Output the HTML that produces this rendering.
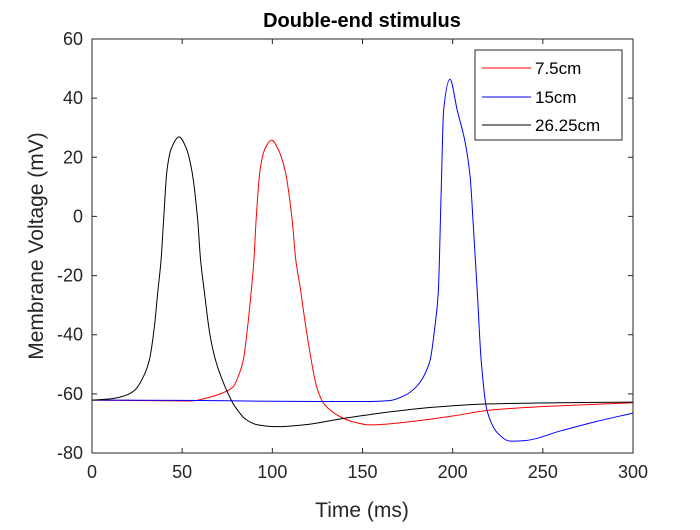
<!DOCTYPE html>
<html><head><meta charset="utf-8"><style>
body{margin:0;background:#fff;}
svg text{font-family:"Liberation Sans",Arial,sans-serif;}
</style></head><body>
<svg id="chart" width="700" height="525" xmlns="http://www.w3.org/2000/svg">
<rect width="700" height="525" fill="#fff"/>
<text x="362" y="27" text-anchor="middle" font-size="20" font-weight="bold" fill="#000">Double-end stimulus</text>
<g id="ticks"></g>
<g id="series"></g>
<rect x="92" y="39" width="541" height="414" fill="none" stroke="#262626" stroke-width="1"/>
<text x="362" y="517" text-anchor="middle" font-size="21" fill="#262626">Time (ms)</text>
<text transform="translate(43,246) rotate(-90)" text-anchor="middle" font-size="21" fill="#262626">Membrane Voltage (mV)</text>
<g>
<rect x="475" y="50" width="147" height="90" fill="#fff" stroke="#262626"/>
<line x1="482" y1="68" x2="531" y2="68" stroke="#ff0000"/>
<text x="535" y="74" font-size="17" fill="#000">7.5cm</text>
<line x1="482" y1="97" x2="531" y2="97" stroke="#0000ff"/>
<text x="535" y="103" font-size="17" fill="#000">15cm</text>
<line x1="482" y1="125" x2="531" y2="125" stroke="#000"/>
<text x="535" y="131" font-size="17" fill="#000">26.25cm</text>
</g>
</svg>
<script>
const xTicks=[0,50,100,150,200,250,300];
const yTicks=[60,40,20,0,-20,-40,-60,-80];
const redT=[0,30,55,65.4,72,78.3,81.5,83.9,86.3,88.2,89.8,91,93.2,96,99.7,103,107,111,113,115.4,118,120.9,124.6,128.7,137.5,145,154,175,200,220.7,260,300];
const redV=[-62.1,-62.3,-62.4,-61.1,-59.8,-57.6,-53.5,-48.6,-37.3,-26,-14.7,-1.2,15.7,23,25.8,23,15.7,-1.2,-14.7,-23.8,-35,-46.2,-57.7,-63.4,-67.7,-69.5,-70.5,-69.5,-67.5,-65.5,-64,-63];
const blueT=[0,50,100,150,165,173.6,180,184,187.5,190,192,193.6,195,198.5,202.5,207,209.7,211.5,213.7,215.8,219,225,232,240,260,280,300];
const blueV=[-62.1,-62.2,-62.5,-62.6,-62.3,-60.5,-57.5,-54,-48.6,-38,-26,7.9,36,46.4,36,24.8,13.3,-3.6,-26,-48.6,-65.5,-73.3,-76,-75.8,-72.5,-69.3,-66.5];
const blackT=[0,10,15.5,20,23.8,28.5,31.8,34.6,36.4,38.3,39.7,41.6,44,48.3,52,55.3,58.6,60.2,62.2,65.4,68.5,73.8,79.3,85.7,92,102,120,137.5,160,190,220,260,300];
const blackV=[-62.1,-61.7,-61.1,-60.2,-58.7,-54.2,-48.6,-37.3,-26,-14.7,-1.2,15.7,23,26.9,23.5,15.7,-1.2,-14.7,-25,-40,-48.6,-57.6,-64.3,-68.8,-70.5,-71.1,-70.3,-68.5,-66.5,-64.5,-63.4,-63,-62.8];
const X0=92,X1=633,Y0=453,Y1=39,XMIN=0,XMAX=300,YMIN=-80,YMAX=60;
function sx(t){return X0+(t-XMIN)/(XMAX-XMIN)*(X1-X0);}
function sy(v){return Y0-(v-YMIN)/(YMAX-YMIN)*(Y0-Y1);}
const NS="http://www.w3.org/2000/svg";
const tg=document.getElementById('ticks');
xTicks.forEach(t=>{
  const x=sx(t);
  const l=document.createElementNS(NS,'path');
  l.setAttribute('d',`M${x},${Y0}v-5M${x},${Y1}v5`);
  l.setAttribute('stroke','#262626');
  
  
  tg.appendChild(l);
  const tx=document.createElementNS(NS,'text');
  tx.setAttribute('x',x);tx.setAttribute('y',Y0+25);
  tx.setAttribute('text-anchor','middle');tx.setAttribute('font-size','18');tx.setAttribute('fill','#262626');
  tx.textContent=t;
  
  
  tg.appendChild(tx);
});
yTicks.forEach(v=>{
  const y=sy(v);
  const l=document.createElementNS(NS,'path');
  l.setAttribute('d',`M${X0},${y}h5M${X1},${y}h-5`);
  l.setAttribute('stroke','#262626');
  
  
  tg.appendChild(l);
  const tx=document.createElementNS(NS,'text');
  tx.setAttribute('x',X0-9);tx.setAttribute('y',y+6);
  tx.setAttribute('text-anchor','end');tx.setAttribute('font-size','18');tx.setAttribute('fill','#262626');
  tx.textContent=v;
  
  
  tg.appendChild(tx);
});
const sg=document.getElementById('series');
function line(T,V,color,name){
  const xs=T.map(sx), ys=V.map(sy), n=xs.length;
  const dl=[], m=[];
  for(let i=0;i<n-1;i++) dl.push((ys[i+1]-ys[i])/(xs[i+1]-xs[i]));
  for(let i=0;i<n;i++){
    if(i===0) m.push(dl[0]); else if(i===n-1) m.push(dl[n-2]);
    else if(dl[i-1]*dl[i]<=0) m.push(0);
    else {const h0=xs[i]-xs[i-1],h1=xs[i+1]-xs[i];const w1=2*h1+h0,w2=h1+2*h0;m.push((w1+w2)/(w1/dl[i-1]+w2/dl[i]));}
  }
  let d='M'+xs[0].toFixed(2)+','+ys[0].toFixed(2);
  for(let i=0;i<n-1;i++){
    const h=(xs[i+1]-xs[i])/3;
    d+=`C${(xs[i]+h).toFixed(2)},${(ys[i]+m[i]*h).toFixed(2)} ${(xs[i+1]-h).toFixed(2)},${(ys[i+1]-m[i+1]*h).toFixed(2)} ${xs[i+1].toFixed(2)},${ys[i+1].toFixed(2)}`;
  }
  const p=document.createElementNS(NS,'path');
  p.setAttribute('d',d);
  p.setAttribute('fill','none');p.setAttribute('stroke',color);p.setAttribute('stroke-width','1');
  
  
  sg.appendChild(p);
}
line(redT,redV,'#ff0000','series-7-5cm');
line(blueT,blueV,'#0000ff','series-15cm');
line(blackT,blackV,'#000000','series-26-25cm');
</script>
</body></html>
